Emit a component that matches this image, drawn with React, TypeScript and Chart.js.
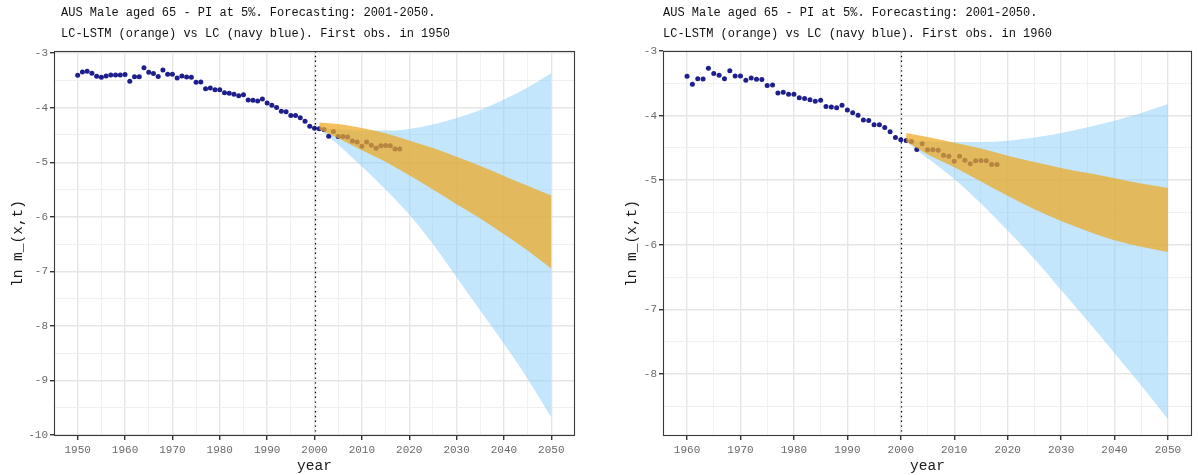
import React, { useEffect, useRef } from "react";
import { Chart, registerables } from "chart.js";

Chart.register(...registerables);

// ---------- data ----------
const obsYears = [
  1950, 1951, 1952, 1953, 1954, 1955, 1956, 1957, 1958, 1959,
  1960, 1961, 1962, 1963, 1964, 1965, 1966, 1967, 1968, 1969,
  1970, 1971, 1972, 1973, 1974, 1975, 1976, 1977, 1978, 1979,
  1980, 1981, 1982, 1983, 1984, 1985, 1986, 1987, 1988, 1989,
  1990, 1991, 1992, 1993, 1994, 1995, 1996, 1997, 1998, 1999,
  2000, 2001, 2002, 2003, 2004, 2005, 2006, 2007, 2008, 2009,
  2010, 2011, 2012, 2013, 2014, 2015, 2016, 2017, 2018,
];
const obsValues = [
  -3.405, -3.344, -3.331, -3.368, -3.423, -3.442, -3.417, -3.399, -3.399, -3.399,
  -3.390, -3.515, -3.431, -3.433, -3.266, -3.350, -3.374, -3.429, -3.307, -3.387,
  -3.387, -3.454, -3.417, -3.436, -3.442, -3.534, -3.528, -3.650, -3.638, -3.669,
  -3.669, -3.724, -3.736, -3.755, -3.779, -3.761, -3.859, -3.865, -3.877, -3.840,
  -3.914, -3.957, -3.994, -4.067, -4.074, -4.141, -4.141, -4.184, -4.250, -4.340,
  -4.375, -4.385, -4.400, -4.525, -4.434, -4.530, -4.530, -4.535, -4.612, -4.630,
  -4.708, -4.630, -4.690, -4.745, -4.698, -4.695, -4.698, -4.758, -4.758,
];

const fcYears = [2001, 2005, 2010, 2015, 2020, 2025, 2030, 2035, 2040, 2045, 2050];

// Panel A: first obs. in 1950
const lcUpperA = [-4.38, -4.40, -4.42, -4.42, -4.39, -4.31, -4.19, -4.04, -3.85, -3.63, -3.37];
const lcLowerA = [-4.40, -4.68, -5.08, -5.50, -5.96, -6.50, -7.11, -7.72, -8.33, -8.97, -9.68];
const lstmUpperA = [-4.27, -4.30, -4.37, -4.47, -4.60, -4.74, -4.90, -5.07, -5.25, -5.43, -5.61];
const lstmLowerA = [-4.40, -4.56, -4.78, -4.99, -5.24, -5.50, -5.77, -6.03, -6.32, -6.62, -6.95];

// Panel B: first obs. in 1960
const lcUpperB = [-4.38, -4.40, -4.41, -4.41, -4.39, -4.34, -4.27, -4.18, -4.08, -3.96, -3.82];
const lcLowerB = [-4.40, -4.66, -4.98, -5.36, -5.78, -6.22, -6.70, -7.18, -7.68, -8.18, -8.70];
const lstmUpperB = [-4.27, -4.33, -4.42, -4.51, -4.62, -4.72, -4.81, -4.89, -4.97, -5.05, -5.12];
const lstmLowerB = [-4.40, -4.60, -4.80, -5.02, -5.24, -5.45, -5.63, -5.79, -5.93, -6.03, -6.11];

const xTicksA = [1950, 1955, 1960, 1965, 1970, 1975, 1980, 1985, 1990, 1995, 2000, 2005, 2010, 2015, 2020, 2025, 2030, 2035, 2040, 2045, 2050];
const yTicksA = [-10, -9.5, -9, -8.5, -8, -7.5, -7, -6.5, -6, -5.5, -5, -4.5, -4, -3.5, -3];
const xTicksB = [1960, 1965, 1970, 1975, 1980, 1985, 1990, 1995, 2000, 2005, 2010, 2015, 2020, 2025, 2030, 2035, 2040, 2045, 2050];
const yTicksB = [-8.5, -8, -7.5, -7, -6.5, -6, -5.5, -5, -4.5, -4, -3.5, -3];

const titleLine1 = "AUS Male aged 65 - PI at 5%. Forecasting: 2001-2050.";
const titleLine2A = "LC-LSTM (orange) vs LC (navy blue). First obs. in 1950";
const titleLine2B = "LC-LSTM (orange) vs LC (navy blue). First obs. in 1960";
const xTitle = "year";
const yTitle = "ln m_(x,t)";
const forecastStart = 2000;

// ---------- styles ----------
const NAVY = "#1e1e8c";
const BLUE = "rgba(135,206,250,0.5)";
const ORANGE = "rgba(238,170,36,0.74)";
const MONO = '"Liberation Mono", "DejaVu Sans Mono", monospace';

const pts = (xs: number[], ys: number[]) => xs.map((x, i) => ({ x, y: ys[i] }));

const decorPlugin = {
  id: "decor",
  afterDatasetsDraw(chart: any, _args: any, opts: any) {
    const { ctx, chartArea } = chart;
    const x = Math.round(chart.scales.x.getPixelForValue(opts.vline)) + 0.5;
    ctx.save();
    ctx.strokeStyle = "#000";
    ctx.lineWidth = 1.2;
    ctx.setLineDash([1.4, 3.4]);
    ctx.beginPath();
    ctx.moveTo(x, chartArea.top);
    ctx.lineTo(x, chartArea.bottom);
    ctx.stroke();
    ctx.restore();
  },
  afterDraw(chart: any, _args: any, opts: any) {
    const { ctx, chartArea } = chart;
    const { left, top, right, bottom } = chartArea;
    ctx.save();
    // panel border
    ctx.strokeStyle = "#3a3a3a";
    ctx.lineWidth = 1.1;
    ctx.strokeRect(left + 0.5, top + 0.5, right - left - 1, bottom - top - 1);
    // title
    ctx.fillStyle = "#111";
    ctx.font = `12px ${MONO}`;
    ctx.textAlign = "left";
    ctx.textBaseline = "middle";
    ctx.fillText(opts.title1, opts.titleX, 13);
    ctx.fillText(opts.title2, opts.titleX, 34);
    // x title
    ctx.font = `14.5px ${MONO}`;
    ctx.fillStyle = "#1a1a1a";
    ctx.textAlign = "center";
    ctx.fillText(opts.xTitle, (left + right) / 2, 466);
    // y title
    ctx.translate(opts.yTitleX, (top + bottom) / 2);
    ctx.rotate(-Math.PI / 2);
    ctx.fillText(opts.yTitle, 0, 0);
    ctx.restore();
  },
};

type PanelCfg = {
  xMin: number;
  xMax: number;
  yMin: number;
  yMax: number;
  xTicks: number[];
  yTicks: number[];
  firstYear: number;
  lcUpper: number[];
  lcLower: number[];
  lstmUpper: number[];
  lstmLower: number[];
  title2: string;
  yAxisWidth: number;
  padRight: number;
  titleX: number;
  yTitleX: number;
};

function Panel({ cfg }: { cfg: PanelCfg }) {
  const ref = useRef<HTMLCanvasElement | null>(null);
  useEffect(() => {
    if (!ref.current) return;
    const obsX: number[] = [];
    const obsY: number[] = [];
    obsYears.forEach((yr, i) => {
      if (yr >= cfg.firstYear) {
        obsX.push(yr);
        obsY.push(obsValues[i]);
      }
    });
    const band = {
      borderWidth: 0,
      borderColor: "rgba(0,0,0,0)",
      pointRadius: 0,
      cubicInterpolationMode: "monotone" as const,
    };
    const chart = new Chart(ref.current, {
      type: "line",
      data: {
        datasets: [
          { ...band, label: "LC-LSTM upper", data: pts(fcYears, cfg.lstmUpper), fill: "+1", backgroundColor: ORANGE },
          { ...band, label: "LC-LSTM lower", data: pts(fcYears, cfg.lstmLower), fill: false },
          {
            label: "observed",
            data: pts(obsX, obsY),
            showLine: false,
            pointRadius: 2.5,
            pointBorderWidth: 0,
            pointBackgroundColor: NAVY,
            pointBorderColor: NAVY,
            fill: false,
          },
          { ...band, label: "LC upper", data: pts(fcYears, cfg.lcUpper), fill: "+1", backgroundColor: BLUE },
          { ...band, label: "LC lower", data: pts(fcYears, cfg.lcLower), fill: false },
        ],
      },
      options: {
        responsive: false,
        animation: false,
        events: [],
        layout: { padding: { left: 0, top: 51, right: cfg.padRight, bottom: 0 } },
        plugins: {
          legend: { display: false },
          tooltip: { enabled: false },
          title: { display: false },
          decor: {
            vline: forecastStart,
            title1: titleLine1,
            title2: cfg.title2,
            titleX: cfg.titleX,
            xTitle,
            yTitle,
            yTitleX: cfg.yTitleX,
          },
        } as any,
        scales: {
          x: {
            type: "linear",
            min: cfg.xMin,
            max: cfg.xMax,
            afterBuildTicks: (s: any) => {
              s.ticks = cfg.xTicks.map((v) => ({ value: v }));
            },
            afterFit: (s: any) => {
              s.height = 39;
            },
            border: { display: false },
            grid: {
              color: (c: any) => (c.tick && c.tick.value % 10 === 0 ? "#E6E6E6" : "#F0F0F0"),
              lineWidth: (c: any) => (c.tick && c.tick.value % 10 === 0 ? 1.4 : 1),
              tickColor: (c: any) => (c.tick && c.tick.value % 10 === 0 ? "#333" : "rgba(0,0,0,0)"),
              tickLength: 4,
              drawTicks: true,
            },
            ticks: {
              autoSkip: false,
              maxRotation: 0,
              padding: 3,
              color: "#6a6a6a",
              font: { family: MONO, size: 11 },
              callback: (v: any) => (Number(v) % 10 === 0 ? String(v) : ""),
            },
          },
          y: {
            type: "linear",
            min: cfg.yMin,
            max: cfg.yMax,
            afterBuildTicks: (s: any) => {
              s.ticks = cfg.yTicks.map((v) => ({ value: v }));
            },
            afterFit: (s: any) => {
              s.width = cfg.yAxisWidth;
            },
            border: { display: false },
            grid: {
              color: (c: any) => (c.tick && Number.isInteger(c.tick.value) ? "#E6E6E6" : "#F0F0F0"),
              lineWidth: (c: any) => (c.tick && Number.isInteger(c.tick.value) ? 1.4 : 1),
              tickColor: (c: any) => (c.tick && Number.isInteger(c.tick.value) ? "#333" : "rgba(0,0,0,0)"),
              tickLength: 4,
              drawTicks: true,
            },
            ticks: {
              autoSkip: false,
              padding: 2,
              color: "#6a6a6a",
              font: { family: MONO, size: 11 },
              callback: (v: any) => (Number.isInteger(Number(v)) ? String(v) : ""),
            },
          },
        },
      },
      plugins: [decorPlugin as any],
    });
    return () => chart.destroy();
  }, [cfg]);
  return <canvas ref={ref} width={599} height={475} style={{ display: "block", width: 599, height: 475 }} />;
}

const cfgA: PanelCfg = {
  xMin: 1945,
  xMax: 2055,
  yMin: -10.02,
  yMax: -2.96,
  xTicks: xTicksA,
  yTicks: yTicksA,
  firstYear: 1950,
  lcUpper: lcUpperA,
  lcLower: lcLowerA,
  lstmUpper: lstmUpperA,
  lstmLower: lstmLowerA,
  title2: titleLine2A,
  yAxisWidth: 54,
  padRight: 24,
  titleX: 61,
  yTitleX: 18,
};

const cfgB: PanelCfg = {
  xMin: 1955.5,
  xMax: 2054.5,
  yMin: -8.96,
  yMax: -3.0,
  xTicks: xTicksB,
  yTicks: yTicksB,
  firstYear: 1960,
  lcUpper: lcUpperB,
  lcLower: lcLowerB,
  lstmUpper: lstmUpperB,
  lstmLower: lstmLowerB,
  title2: titleLine2B,
  yAxisWidth: 64,
  padRight: 6,
  titleX: 64,
  yTitleX: 33,
};

export default function App() {
  return (
    <div
      style={{
        position: "absolute",
        left: 0,
        top: 0,
        width: 1198,
        height: 475,
        display: "flex",
        background: "#fff",
        overflow: "hidden",
      }}
    >
      <Panel cfg={cfgA} />
      <Panel cfg={cfgB} />
    </div>
  );
}
